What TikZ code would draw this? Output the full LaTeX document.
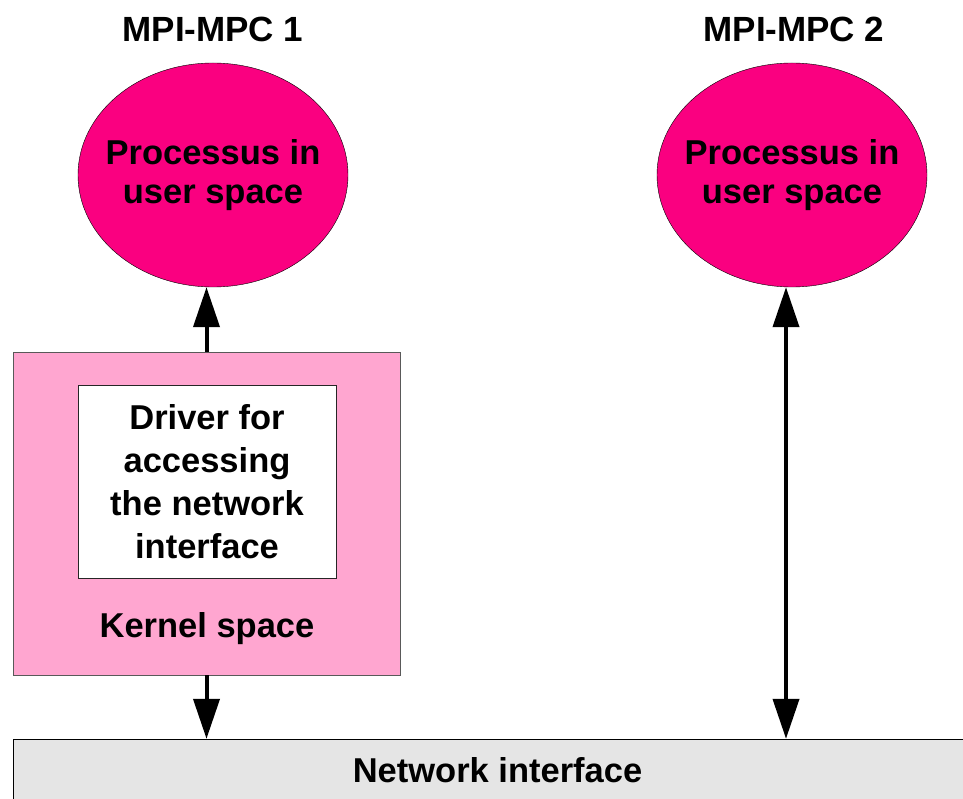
\documentclass[tikz,border=0pt]{standalone}
\usepackage{fontspec}
\setmainfont{Liberation Sans}
\usetikzlibrary{arrows.meta,shapes.geometric}

\definecolor{procpink}{RGB}{250,0,128}
\definecolor{kernpink}{RGB}{255,166,208}
\definecolor{netgray}{RGB}{229,229,229}

\begin{document}
\begin{tikzpicture}[x=1pt,y=-1pt,>={Triangle[length=40pt,width=26pt]}]
\tikzstyle{mpctitle} = [anchor=base, font=\fontsize{35}{40}\selectfont\bfseries]

\tikzstyle{proc} = [ellipse, draw=black, fill=procpink, inner sep=-40pt,
minimum width=270pt, minimum height=224pt, align=center,
font=\fontsize{34.5}{39}\selectfont\bfseries]
\tikzstyle{kernel} = [rectangle, draw=black!65, fill=kernpink, inner sep=0pt,
minimum width=387pt, minimum height=323pt]
\tikzstyle{driver} = [rectangle, draw=black!85, fill=white, inner sep=0pt,
minimum width=258pt, minimum height=193pt, align=center,
font=\fontsize{34.5}{43}\selectfont\bfseries]
\tikzstyle{kerntext} = [anchor=base, font=\fontsize{34.5}{40}\selectfont\bfseries]
\tikzstyle{net} = [rectangle, draw=black, fill=netgray, inner sep=0pt,
minimum width=969pt, minimum height=62pt,
font=\fontsize{34.5}{40}\selectfont\bfseries]
\tikzstyle{line} = [draw, line width=4pt]

\useasboundingbox (0,0) rectangle (963,799);

% user space
\node [mpctitle] (t1) at (213,42) {MPI-MPC 1};
\node [mpctitle] (t2) at (794,42) {MPI-MPC 2};
\node [proc] (usr1) at (213,175) {Processus in\\user space};
\node [proc] (usr2) at (792,175) {Processus in\\user space};

% kernel space
\node [kernel] (kern) at (206.5,513.5) {};
\node [driver] (drv) at (207,481.5) {Driver for\\accessing\\the network\\interface};
\node [kerntext] (kspace) at (207,637) {Kernel space};

% network
\node [net] (net) at (497.5,770) {Network interface};

\path [line,->] (kern.north) -- (kern.north |- usr1.south);
\path [line,->] (kern.south) -- (kern.south |- net.north);
\path [line,<->] ([xshift=-6pt]usr2.south) -- ([xshift=-6pt]usr2.south |- net.north);

\end{tikzpicture}
\end{document}
